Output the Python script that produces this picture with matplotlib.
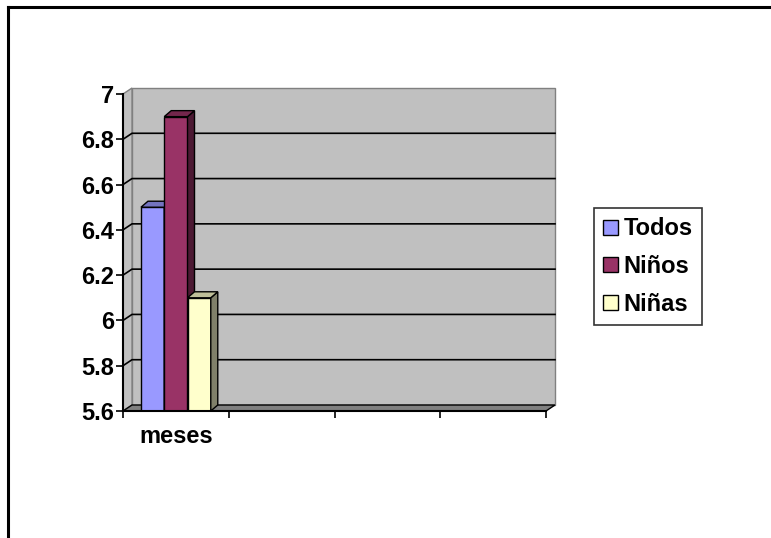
import numpy as np
import matplotlib
matplotlib.use("Agg")
import matplotlib.pyplot as plt
import matplotlib.transforms as mtransforms
from matplotlib.patches import Polygon, Patch
from matplotlib.lines import Line2D

# Data
categories = ["meses", "", "", ""]
series = ["Todos", "Niños", "Niñas"]
todos = [6.5]
ninos = [6.9]
ninas = [6.1]
yticks = [5.6, 5.8, 6.0, 6.2, 6.4, 6.6, 6.8, 7.0]
ytick_labels = ["5.6", "5.8", "6", "6.2", "6.4", "6.6", "6.8", "7"]

front_colors = ["#9999FF", "#993366", "#FFFFCC"]
top_colors = ["#7373BF", "#73264C", "#BFBF99"]
side_colors = ["#4C4C80", "#4C1933", "#80806A"]

plt.rcParams['font.family'] = ['Liberation Sans', 'DejaVu Sans']
plt.rcParams['font.weight'] = 'bold'
FS = 17

W, H = 771, 538
fig = plt.figure(figsize=(W / 100, H / 100), dpi=100)
fig.patch.set_facecolor("white")

# outer chart border (cut off at right and bottom)
fig.add_artist(Line2D([8 / W, 1.0], [1 - 7 / H, 1 - 7 / H], color="black", lw=2.2,
                      transform=fig.transFigure))
fig.add_artist(Line2D([8 / W, 8 / W], [1 - 7 / H, 0.0], color="black", lw=2.2,
                      transform=fig.transFigure))

ax = fig.add_axes([123 / W, 1 - 411 / H, 423 / W, 317 / H])
ax.set_facecolor("none")
ax.set_xlim(0, len(categories))
ax.set_ylim(yticks[0], yticks[-1])
y0 = yticks[0]

wall_dx, wall_dy = 9, 6     # depth of the walls, pixels
bar_dx, bar_dy = 7, 6       # depth of the bars, pixels

fig.canvas.draw()
to_disp = ax.transAxes.transform
ident = mtransforms.IdentityTransform()

def shift(p, dx, dy):
    return (p[0] + dx, p[1] + dy)

# back wall
bl, br, tl, tr = to_disp([(0, 0), (1, 0), (0, 1), (1, 1)])
back = [shift(bl, wall_dx, wall_dy), shift(br, wall_dx, wall_dy),
        shift(tr, wall_dx, wall_dy), shift(tl, wall_dx, wall_dy)]
ax.add_patch(Polygon(back, closed=True, facecolor="#C0C0C0", edgecolor="#808080",
                     lw=1, transform=ident, clip_on=False, zorder=0))
# side wall
side = [bl, shift(bl, wall_dx, wall_dy), shift(tl, wall_dx, wall_dy), tl]
ax.add_patch(Polygon(side, closed=True, facecolor="#C0C0C0", edgecolor="#808080",
                     lw=1, transform=ident, clip_on=False, zorder=0))
# floor
floor = [bl, br, shift(br, wall_dx, wall_dy), shift(bl, wall_dx, wall_dy)]
ax.add_patch(Polygon(floor, closed=True, facecolor="#808080", edgecolor="black",
                     lw=1, transform=ident, clip_on=False, zorder=0.5))

# gridlines on side and back wall
for v in yticks[1:-1]:
    p0 = ax.transData.transform((0, v))
    p1 = ax.transData.transform((len(categories), v))
    q0 = shift(p0, wall_dx, wall_dy)
    q1 = shift(p1, wall_dx, wall_dy)
    ax.add_line(Line2D([p0[0], q0[0], q1[0]], [p0[1], q0[1], q1[1]], color="black",
                       lw=1.2, transform=ident, clip_on=False, zorder=0.6))

# bars with side and top faces
width = 0.22
values = [todos, ninos, ninas]
for i, vals in enumerate(values):
    xs = np.arange(len(vals)) + 0.5 + (i - 1) * width
    ax.bar(xs, np.array(vals) - y0, bottom=y0, width=width, color=front_colors[i],
           edgecolor="black", lw=1, zorder=2)
    for x, v in zip(xs, vals):
        fl = ax.transData.transform((x - width / 2, v))
        fr = ax.transData.transform((x + width / 2, v))
        br_ = ax.transData.transform((x + width / 2, y0))
        top = [fl, fr, shift(fr, bar_dx, bar_dy), shift(fl, bar_dx, bar_dy)]
        sidef = [br_, fr, shift(fr, bar_dx, bar_dy), shift(br_, bar_dx, bar_dy)]
        ax.add_patch(Polygon(sidef, closed=True, facecolor=side_colors[i],
                             edgecolor="black", lw=1, transform=ident,
                             clip_on=False, zorder=2))
        ax.add_patch(Polygon(top, closed=True, facecolor=top_colors[i],
                             edgecolor="black", lw=1, transform=ident,
                             clip_on=False, zorder=2))

# axes
for s in ["top", "right"]:
    ax.spines[s].set_visible(False)
for s in ["left", "bottom"]:
    ax.spines[s].set_color("black")
    ax.spines[s].set_linewidth(1.5)
    ax.spines[s].set_zorder(3)

ax.set_yticks(yticks)
ax.set_yticklabels(ytick_labels, fontsize=FS, fontweight="bold")
ax.tick_params(axis="y", direction="out", length=5, width=1.2, pad=1.5)

ax.set_xticks(np.arange(len(categories) + 1))
ax.set_xticklabels([""] * (len(categories) + 1))
ax.tick_params(axis="x", which="major", direction="out", length=5, width=1.2)
ax.set_xticks(np.arange(len(categories)) + 0.5, minor=True)
ax.set_xticklabels(categories, minor=True, fontsize=FS, fontweight="bold")
ax.tick_params(axis="x", which="minor", length=0, pad=10)

# legend
handles = [Patch(facecolor=c, edgecolor="black", lw=1) for c in front_colors]
leg = fig.legend(handles, series, loc="upper left",
                 bbox_to_anchor=(594 / W, 1 - 208 / H), borderaxespad=0,
                 prop={"size": FS, "weight": "bold"}, frameon=True, fancybox=False,
                 handlelength=0.6, handleheight=0.6, handletextpad=0.25,
                 labelspacing=0.62, borderpad=0.4)
leg.get_frame().set_edgecolor("black")
leg.get_frame().set_linewidth(1.2)

fig.savefig("out.png", dpi=100)
